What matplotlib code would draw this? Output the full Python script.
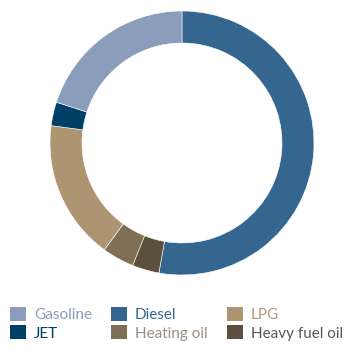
import matplotlib
matplotlib.use("Agg")
import matplotlib.pyplot as plt
from matplotlib.patches import Patch

# fuel mix shares in %, clockwise from 12 o'clock
fuels = ["Diesel", "Heavy fuel oil", "Heating oil", "LPG", "JET", "Gasoline"]
shares = [52.8, 3.3, 3.9, 17.1, 2.9, 20.0]
colors = {
    "Gasoline": "#8a9dba",
    "Diesel": "#356690",
    "LPG": "#ae9572",
    "JET": "#003f66",
    "Heating oil": "#7e6f55",
    "Heavy fuel oil": "#5a503c",
}
text_colors = {
    "Gasoline": "#8a9dba",
    "Diesel": "#356690",
    "LPG": "#b09a7c",
    "JET": "#003f66",
    "Heating oil": "#998f82",
    "Heavy fuel oil": "#5a5650",
}
# legend order: filled column by column (rows: Gasoline/Diesel/LPG, JET/Heating oil/Heavy fuel oil)
legend_order = ["Gasoline", "JET", "Diesel", "Heating oil", "LPG", "Heavy fuel oil"]

plt.rcParams["font.family"] = ["Lato", "DejaVu Sans"]

W, H = 344, 349
fig = plt.figure(figsize=(W / 100, H / 100), dpi=100)

cx, cy, r = 182, 349 - 143, 132
ax = fig.add_axes([(cx - r) / W, (cy - r) / H, 2 * r / W, 2 * r / H])
ax.pie(shares, colors=[colors[f] for f in fuels], startangle=90, counterclock=False,
       radius=1, wedgeprops=dict(width=32 / 132, edgecolor="white", linewidth=0.4))
ax.set_xlim(-1, 1)
ax.set_ylim(-1, 1)
ax.set_aspect("equal")
ax.axis("off")

fs = 11
px = fs * 100 / 72
handles = [Patch(facecolor=colors[f], edgecolor="none") for f in legend_order]
leg = fig.legend(handles, legend_order, ncol=3, loc="upper left",
                 bbox_to_anchor=(10 / W, 1 - 307 / H), bbox_transform=fig.transFigure,
                 frameon=False, fontsize=fs, handlelength=16 / px, handleheight=16 / px,
                 handletextpad=8 / px, columnspacing=19 / px, labelspacing=3 / px,
                 borderpad=0, borderaxespad=0)
for txt in leg.get_texts():
    txt.set_color(text_colors[txt.get_text()])

fig.savefig("out.png", dpi=100)
